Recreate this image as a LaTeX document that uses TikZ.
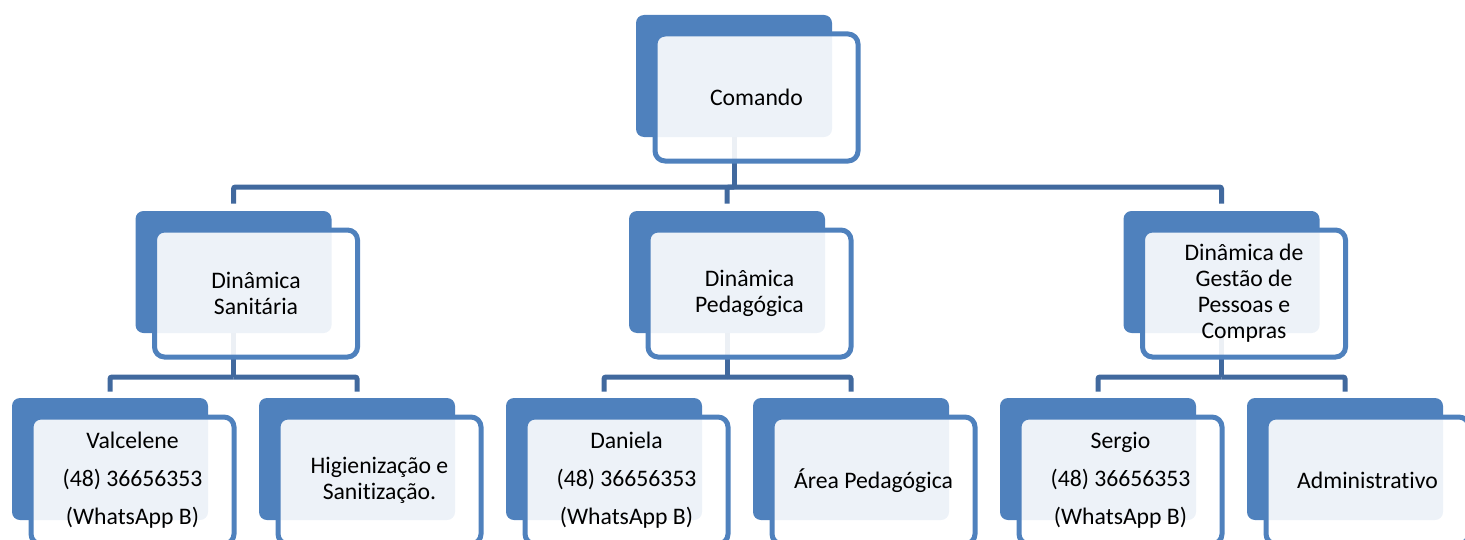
\documentclass[tikz,border=0pt]{standalone}
\usepackage{fontspec}
\setmainfont{Carlito}[Ligatures={NoCommon}]
\definecolor{boxblue}{HTML}{4F81BD}
\definecolor{linkblue}{HTML}{41699E}

\begin{document}
\begin{tikzpicture}[x=0.5pt,y=-0.5pt,
	back/.style={rectangle,rounded corners=4pt,fill=boxblue,minimum width=98pt,minimum height=61pt,inner sep=0pt},
	front/.style={rectangle,rounded corners=5pt,draw=boxblue,line width=2.5pt,fill=white,fill opacity=0.9,text opacity=1,
		minimum width=101.5pt,minimum height=63.5pt,inner sep=0pt,align=center,font=\fontsize{11.85}{13}\selectfont},
	link/.style={draw=linkblue,line width=2.5pt,rounded corners=1pt}]
	\clip (0,0) rectangle (1465,540);
	%back boxes
	%%top
	\node[back] (comB) at (734,76) {};
	%%middle
	\node[back] (sanB) at (233.5,272) {};
	\node[back] (pedB) at (727,272) {};
	\node[back] (gesB) at (1221.5,272) {};
	%%bottom
	\node[back] (valB) at (110,459) {};
	\node[back] (higB) at (357,459) {};
	\node[back] (danB) at (604,459) {};
	\node[back] (areB) at (851,459) {};
	\node[back] (serB) at (1098,459) {};
	\node[back] (admB) at (1345,459) {};
	%links
	\coordinate (hubA) at (734,187);
	\draw[link] (comB.south) -- (hubA);
	\draw[link] (hubA) -| ([yshift=3.5pt]sanB.north);
	\draw[link] (hubA) -| ([yshift=3.5pt]pedB.north);
	\draw[link] (hubA) -| ([yshift=3.5pt]gesB.north);
	%%sanitaria
	\coordinate (hubS) at (233.5,377);
	\draw[link] (sanB.south) -- (hubS);
	\draw[link] (hubS) -| ([yshift=3pt]valB.north);
	\draw[link] (hubS) -| ([yshift=3pt]higB.north);
	%%pedagogica
	\coordinate (hubP) at (727,377);
	\draw[link] (pedB.south) -- (hubP);
	\draw[link] (hubP) -| ([yshift=3pt]danB.north);
	\draw[link] (hubP) -| ([yshift=3pt]areB.north);
	%%gestao
	\coordinate (hubG) at (1221.5,377);
	\draw[link] (gesB.south) -- (hubG);
	\draw[link] (hubG) -| ([yshift=3pt]serB.north);
	\draw[link] (hubG) -| ([yshift=3pt]admB.north);
	%front boxes
	\node[front] (com) at (756.5,97.5) {Comando};
	\node[front] (san) at (256,293.5) {Dinâmica\\Sanitária};
	\node[front] (ped) at (749.5,293.5) {Dinâmica\\Pedagógica};
	\node[front] (ges) at (1244,293.5) {Dinâmica de\\Gestão de\\Pessoas e\\Compras};
	\node[front] (val) at (132.5,480.5) {Valcelene\\[6pt](48) 36656353\\[6pt](WhatsApp B)};
	\node[front] (hig) at (379.5,480.5) {Higienização e\\Sanitização.};
	\node[front] (dan) at (626.5,480.5) {Daniela\\[6pt](48) 36656353\\[6pt](WhatsApp B)};
	\node[front] (are) at (873.5,480.5) {Área Pedagógica};
	\node[front] (ser) at (1120.5,480.5) {Sergio\\[6pt](48) 36656353\\[6pt](WhatsApp B)};
	\node[front] (adm) at (1367.5,480.5) {Administrativo};
\end{tikzpicture}
\end{document}
